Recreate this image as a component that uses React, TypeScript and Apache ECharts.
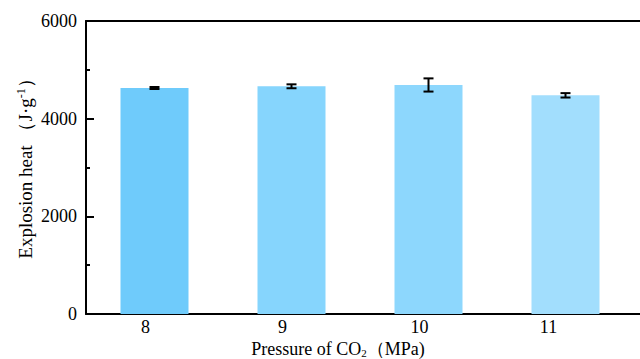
import React, { useEffect, useRef } from "react";
import * as echarts from "echarts";

const categories = ["8", "9", "10", "11", ""];
const heatValues = [4628, 4663, 4690, 4478];
const heatErrors = [20, 40, 135, 45];
const barColors = ["#6fcbfb", "#86d5fd", "#8dd7fd", "#a2defd"];
const yTicks = [0, 2000, 4000, 6000];

const FONT = "'Liberation Serif', 'Times New Roman', serif";

export default function App() {
  const ref = useRef<HTMLDivElement>(null);
  useEffect(() => {
    if (!ref.current) return;
    const chart = echarts.init(ref.current, undefined, { renderer: "svg" });
    const errData = heatValues.map((v, i) => [i, v - heatErrors[i], v + heatErrors[i]]);
    chart.setOption({
      animation: false,
      grid: { left: 86, top: 21, width: 685, height: 293, containLabel: false },
      xAxis: [
        {
          type: "category",
          data: categories,
          boundaryGap: true,
          axisLine: { lineStyle: { color: "#000", width: 2 } },
          axisTick: { show: false },
          axisLabel: {
            interval: 0,
            margin: 4,
            color: "#000",
            fontFamily: FONT,
            fontSize: 18,
            lineHeight: 18,
            formatter: (v: string, i: number) => (i === 3 ? `{b|${v}}` : `{a|${v}}`),
            rich: {
              a: { fontFamily: FONT, fontSize: 18, lineHeight: 18, color: "#000", padding: [0, 18, 0, 0] },
              b: { fontFamily: FONT, fontSize: 18, lineHeight: 18, color: "#000", padding: [0, 34, 0, 0] },
            },
          },
          splitLine: { show: false },
        },
        {
          type: "category",
          position: "top",
          data: categories,
          axisLine: { lineStyle: { color: "#000", width: 2 } },
          axisTick: { show: false },
          axisLabel: { show: false },
        },
      ],
      yAxis: {
        type: "value",
        min: yTicks[0],
        max: yTicks[yTicks.length - 1],
        interval: 2000,
        axisLine: { show: true, lineStyle: { color: "#000", width: 2 } },
        axisTick: { show: true, inside: true, length: 8, lineStyle: { color: "#000", width: 2 } },
        minorTick: { show: true, splitNumber: 2, length: 4, lineStyle: { color: "#000", width: 2 } },
        axisLabel: {
          color: "#000",
          fontFamily: FONT,
          fontSize: 18,
          margin: 9,
          formatter: (v: number) => String(v),
        },
        splitLine: { show: false },
      },
      graphic: [
        {
          type: "text",
          x: 25,
          y: 164,
          rotation: Math.PI / 2,
          style: {
            text: "{n|Explosion heat （J·g}{s|-1}{n|）}",
            align: "center",
            verticalAlign: "middle",
            rich: {
              n: { fontFamily: FONT, fontSize: 19, fill: "#000" },
              s: { fontFamily: FONT, fontSize: 12, fill: "#000", verticalAlign: "top", padding: [0, 0, 8, 0] },
            },
          },
        },
        {
          type: "text",
          x: 338,
          y: 349,
          style: {
            text: "{n|Pressure of CO}{s|2}{n|（MPa)}",
            align: "center",
            verticalAlign: "middle",
            rich: {
              n: { fontFamily: FONT, fontSize: 18, lineHeight: 18, fill: "#000" },
              s: { fontFamily: FONT, fontSize: 11, lineHeight: 11, fill: "#000", padding: [8, 0, 0, 0] },
            },
          },
        },
      ],
      series: [
        {
          type: "bar",
          barWidth: 68,
          data: heatValues.map((v, i) => ({ value: v, itemStyle: { color: barColors[i] } })),
        },
        {
          type: "custom",
          data: errData,
          renderItem: (params: any, api: any) => {
            const x = api.coord([api.value(0), api.value(1)])[0];
            const lo = api.coord([api.value(0), api.value(1)])[1];
            const hi = api.coord([api.value(0), api.value(2)])[1];
            const hw = 5;
            const style = { stroke: "#000", lineWidth: 2 };
            return {
              type: "group",
              children: [
                { type: "line", shape: { x1: x, y1: lo, x2: x, y2: hi }, style },
                { type: "line", shape: { x1: x - hw, y1: lo, x2: x + hw, y2: lo }, style },
                { type: "line", shape: { x1: x - hw, y1: hi, x2: x + hw, y2: hi }, style },
              ],
            };
          },
          z: 10,
        },
      ],
    });
    return () => chart.dispose();
  }, []);
  return (
    <div
      ref={ref}
      style={{ position: "fixed", left: 0, top: 0, width: 800, height: 359, background: "#fff" }}
    />
  );
}
